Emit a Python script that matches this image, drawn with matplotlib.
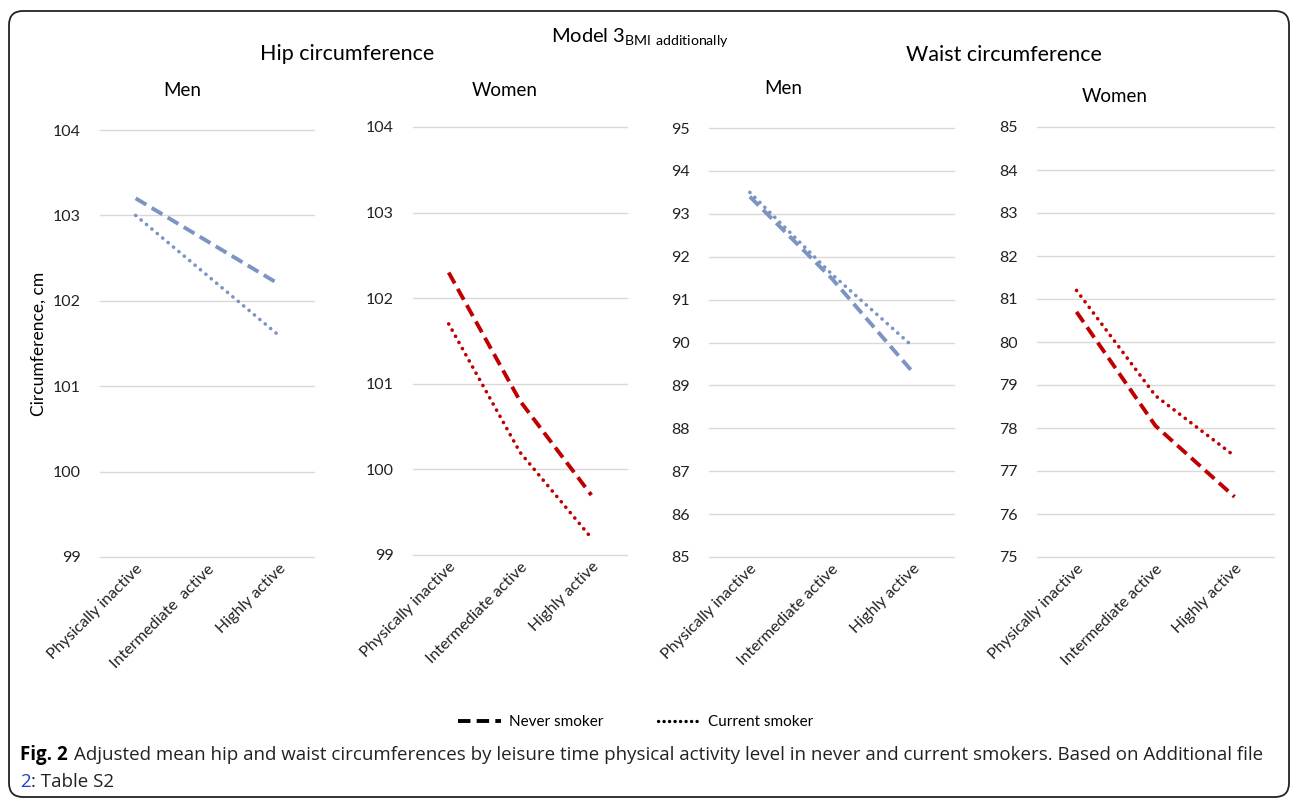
import matplotlib.pyplot as plt
from matplotlib.lines import Line2D
from matplotlib.patches import FancyBboxPatch
from matplotlib.transforms import IdentityTransform, ScaledTranslation

plt.rcParams['font.family'] = ['Lato', 'DejaVu Sans']

W, H = 1292, 799

levels = ['Physically inactive', 'Intermediate active', 'Highly active']
levels_hip_men = ['Physically inactive', 'Intermediate  active', 'Highly active']

hip_men_never = [103.2, 102.7, 102.2]
hip_men_current = [103.0, 102.3, 101.6]
hip_women_never = [102.3, 100.8, 99.7]
hip_women_current = [101.7, 100.2, 99.2]
waist_men_never = [93.4, 91.5, 89.3]
waist_men_current = [93.5, 91.6, 89.9]
waist_women_never = [80.7, 78.05, 76.4]
waist_women_current = [81.2, 78.75, 77.35]

blue = '#7C94C4'
red = '#C00000'
dash = (0, (3.2, 1.6))
dot = (0, (0.05, 1.9))

fig = plt.figure(figsize=(W / 100, H / 100), dpi=100)


def add_panel(x0, x1, ytop, ybot, ylim, labels, never, current, color, title, title_x, title_y):
    ax = fig.add_axes([x0 / W, 1 - ybot / H, (x1 - x0) / W, (ybot - ytop) / H])
    x = range(len(labels))
    ax.plot(x, never, color=color, lw=2.8, linestyle=dash)
    ax.plot(x, current, color=color, lw=2.6, linestyle=dot, dash_capstyle='round')
    ax.set_xlim(-0.5, len(labels) - 0.5)
    ax.set_ylim(*ylim)
    ax.set_yticks(range(ylim[0], ylim[1] + 1))
    ax.set_xticks(list(x))
    ax.set_xticklabels(labels, rotation=45, ha='right', rotation_mode='anchor')
    for lab in ax.get_xticklabels():
        lab.set_transform(lab.get_transform() + ScaledTranslation(-0.07, -0.08, fig.dpi_scale_trans))
    ax.tick_params(length=0, labelsize=11.5, colors='#222222')
    ax.tick_params(axis='y', pad=14)
    ax.grid(axis='y', color='#D9D9D9', lw=1)
    for gl in ax.get_ygridlines():
        gl.set_clip_on(False)
    ax.set_axisbelow(True)
    for s in ax.spines.values():
        s.set_visible(False)
    fig.text(title_x / W, 1 - title_y / H, title, ha='center', va='center', fontsize=13.5)
    return ax


ax1 = add_panel(100, 314, 130, 557, (99, 104), levels_hip_men, hip_men_never, hip_men_current, blue, 'Men', 182, 90)
ax1.set_ylabel('Circumference, cm', fontsize=12.5, labelpad=4)
add_panel(413, 627, 127, 555, (99, 104), levels, hip_women_never, hip_women_current, red, 'Women', 505, 90)
add_panel(709, 954, 128, 557, (85, 95), levels, waist_men_never, waist_men_current, blue, 'Men', 783, 88)
add_panel(1037, 1274, 127, 557, (75, 85), levels, waist_women_never, waist_women_current, red, 'Women', 1115, 97)

fig.text(640 / W, 1 - 38 / H, r'Model 3$_{\mathregular{BMI\ additionally}}$', ha='center', va='center', fontsize=14.5)
fig.text(347 / W, 1 - 54 / H, 'Hip circumference', ha='center', va='center', fontsize=15.5)
fig.text(1004 / W, 1 - 55 / H, 'Waist circumference', ha='center', va='center', fontsize=15.5)

handles = [Line2D([], [], color='black', lw=2.8, linestyle=dash),
           Line2D([], [], color='black', lw=2.4, linestyle=(0, (0.05, 1.6)), dash_capstyle='round')]
fig.legend(handles, ['Never smoker', 'Current smoker'], loc='center', bbox_to_anchor=(636 / W, 1 - 722 / H),
           ncol=2, frameon=False, fontsize=11, handlelength=2.8, columnspacing=3.6, handletextpad=0.5)

# caption
cap_font = ['Open Sans', 'DejaVu Sans']
t1 = fig.text(20 / W, 1 - 755 / H, 'Fig. 2', fontsize=13.5, fontweight='bold', va='center', family=cap_font)
t3 = fig.text(20 / W, 1 - 782 / H, '2', fontsize=13.5, color='#1F3FD0', va='center', family=cap_font)
fig.canvas.draw()
r = fig.canvas.get_renderer()
b1 = t1.get_window_extent(r)
fig.text((b1.x1 + 6) / W, 1 - 755 / H,
         'Adjusted mean hip and waist circumferences by leisure time physical activity level in never and current smokers. Based on Additional file',
         fontsize=13.5, va='center', color='#222222', family=cap_font)
b3 = t3.get_window_extent(r)
fig.text(b3.x1 / W, 1 - 782 / H, ': Table S2', fontsize=13.5, va='center', color='#222222', family=cap_font)

# rounded frame
frame = FancyBboxPatch((9, H - 797), 1280, 786, boxstyle='round,pad=0,rounding_size=14',
                       transform=IdentityTransform(), fill=False, edgecolor='#222222', lw=1.3)
fig.patches.append(frame)

fig.savefig('out.png', dpi=100)
